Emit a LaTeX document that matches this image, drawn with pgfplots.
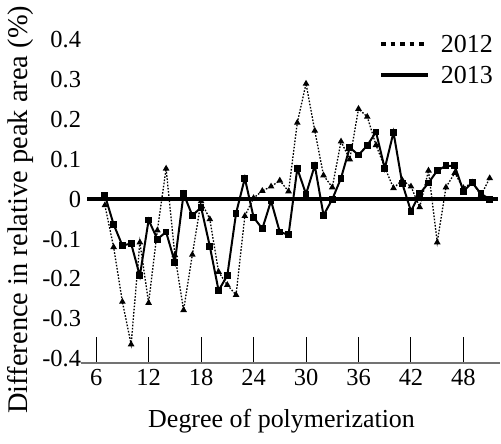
\documentclass[border=0pt]{standalone}
\usepackage{fontspec}
\setmainfont{Liberation Serif}
\newfontfamily\tickfont{Liberation Serif}
\usepackage{pgfplots}
\usepackage{pgfplotstable}
\pgfplotsset{compat=1.18}

% degree of polymerization, difference 2013, difference 2012
\pgfplotstableread{
dp   d13     d12
7    0.010  -0.015
8   -0.063  -0.120
9   -0.116  -0.257
10  -0.111  -0.364
11  -0.192  -0.108
12  -0.052  -0.260
13  -0.100  -0.078
14  -0.082   0.077
15  -0.158  -0.140
16   0.014  -0.278
17  -0.041  -0.139
18  -0.020  -0.005
19  -0.118  -0.050
20  -0.229  -0.182
21  -0.191  -0.215
22  -0.035  -0.240
23   0.053  -0.042
24  -0.045   0.003
25  -0.074   0.021
26  -0.004   0.032
27  -0.082   0.047
28  -0.089   0.020
29   0.077   0.192
30   0.013   0.290
31   0.085   0.172
32  -0.040   0.060
33   0.000   0.030
34   0.053   0.145
35   0.130   0.100
36   0.111   0.227
37   0.135   0.207
38   0.169   0.136
39   0.077   0.080
40   0.168   0.028
41   0.040   0.048
42  -0.030   0.032
43   0.014  -0.020
44   0.041   0.072
45   0.072  -0.108
46   0.084   0.030
47   0.084   0.066
48   0.020   0.028
49   0.042   0.042
50   0.014   0.010
51   0.000   0.053
}\datatable

\begin{document}
\begin{tikzpicture}
\begin{axis}[
    name=ax,
    scale only axis,
    width=420.3pt, height=363.3pt,
    xmin=4.22, xmax=52.2,
    ymin=-0.41, ymax=0.5,
    axis x line*=bottom,
    axis y line*=left,
    x axis line style={-, draw=black!55, line width=1.6pt},
    y axis line style={draw=none},
    xtick={6,12,18,24,30,36,42,48},
    ytick={-0.4,-0.3,-0.2,-0.1,0,0.1,0.2,0.3,0.4},
    xticklabels={6,12,18,24,30,36,42,48},
    yticklabels={-0.4,-0.3,-0.2,-0.1,0,0.1,0.2,0.3,0.4},
    xtick align=inside,
    major tick length=26pt,
    x tick style={black, line width=1pt},
    y tick style={draw=none},
    tick label style={font=\tickfont\fontsize{24.5}{28}\selectfont},
    xticklabel style={yshift=-3pt},
    yticklabel style={xshift=4pt},
    xlabel={Degree of polymerization},
    ylabel={Difference in relative peak area (\%)},
    xlabel style={font=\fontsize{26}{30}\selectfont,
        at={(axis description cs:0.479,-0.162)}, anchor=center},
    ylabel style={font=\fontsize{28.5}{32}\selectfont,
        at={(axis description cs:-0.142,0.422)}, anchor=center},
    clip=false,
    legend image code/.code={\draw[#1] (0pt,0pt) -- (47pt,0pt);},
    legend style={at={(axis description cs:0.995,0.915)}, anchor=north east,
        draw=none, fill=none, font=\fontsize{26}{30}\selectfont,
        row sep=8pt, column sep=9pt},
]
% zero line
\addplot[black, line width=4pt, forget plot] coordinates {(4.98,0) (51.9,0)};
% 2012
\addplot[black, line width=1.3pt, dash pattern=on 1.6pt off 1.6pt,
    mark=triangle*, mark size=2.6pt, mark options={solid}, forget plot]
    table[x=dp, y=d12] {\datatable};
% 2013
\addplot[black, line width=2pt, mark=square*, mark size=2.4pt, forget plot]
    table[x=dp, y=d13] {\datatable};
\addlegendimage{black, line width=4pt, dash pattern=on 4.5pt off 5pt}
\addlegendentry{2012}
\addlegendimage{black, line width=4pt}
\addlegendentry{2013}
\end{axis}
\path (ax.south west) ++(-80.7pt,-80.7pt) rectangle (ax.north east);
\end{tikzpicture}
\end{document}
